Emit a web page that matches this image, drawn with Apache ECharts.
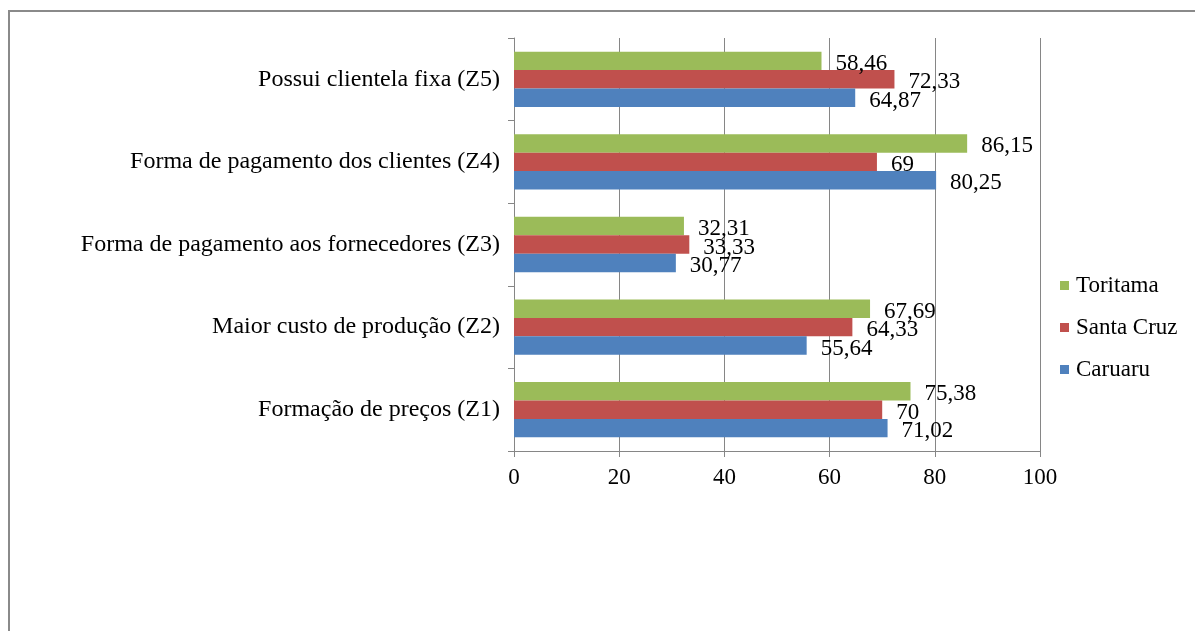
<!DOCTYPE html>
<html>
<head>
<meta charset="utf-8">
<script src="https://cdn.jsdelivr.net/npm/echarts@6/dist/echarts.min.js"></script>
<style>
  html, body { margin: 0; padding: 0; background: #fff; }
  #chart { width: 1195px; height: 631px; }
</style>
</head>
<body>
<div id="chart"></div>
<script>
// categories, bottom to top
const categories = [
  'Formação de preços (Z1)',
  'Maior custo de produção (Z2)',
  'Forma de pagamento aos fornecedores (Z3)',
  'Forma de pagamento dos clientes (Z4)',
  'Possui clientela fixa (Z5)'
]
const caruaru = [71.02, 55.64, 30.77, 80.25, 64.87]
const santaCruz = [70, 64.33, 33.33, 69, 72.33]
const toritama = [75.38, 67.69, 32.31, 86.15, 58.46]
const legendOrder = ['Toritama', 'Santa Cruz', 'Caruaru']

const serif = '"Liberation Serif", "Times New Roman", serif'
const gray = '#868686'

function makeSeries(name, values, color) {
  return {
    name: name,
    type: 'bar',
    data: values,
    barGap: '0%',
    barCategoryGap: '33%',
    itemStyle: { color: color },
    label: {
      show: true,
      position: 'right',
      distance: 14,
      offset: [0, 3],
      color: '#000',
      fontFamily: serif,
      fontSize: 23,
      formatter(p) {
        return String(p.value).replace('.', ',')
      }
    },
    animation: false
  }
}

const chart = echarts.init(document.getElementById('chart'))
chart.setOption({
  backgroundColor: '#fff',
  graphic: [{
    type: 'rect',
    shape: { x: 9, y: 11, width: 1200, height: 640 },
    style: { fill: 'none', stroke: '#8a8a8a', lineWidth: 2 },
    silent: true
  }],
  grid: { left: 514, right: 155, top: 38, bottom: 180 },
  legend: {
    data: legendOrder,
    orient: 'vertical',
    left: 1055,
    top: 269,
    itemWidth: 9,
    itemHeight: 9,
    itemGap: 19,
    icon: 'rect',
    textStyle: { color: '#000', fontFamily: serif, fontSize: 23, padding: [0, 0, 0, 2] }
  },
  xAxis: {
    type: 'value',
    min: 0,
    max: 100,
    interval: 20,
    axisLine: { show: true, lineStyle: { color: gray } },
    axisTick: { show: true, length: 6, lineStyle: { color: gray } },
    splitLine: { show: true, lineStyle: { color: gray, width: 1 } },
    axisLabel: { color: '#000', fontFamily: serif, fontSize: 23, margin: 15 }
  },
  yAxis: {
    type: 'category',
    data: categories,
    axisLine: { show: true, lineStyle: { color: gray } },
    axisTick: { show: true, length: 6, lineStyle: { color: gray } },
    axisLabel: { color: '#000', fontFamily: serif, fontSize: 24, margin: 14 }
  },
  // first series is drawn on top of each group, so green goes first
  series: [
    makeSeries('Toritama', toritama, '#9BBB59'),
    makeSeries('Santa Cruz', santaCruz, '#C0504D'),
    makeSeries('Caruaru', caruaru, '#4F81BD')
  ]
})
</script>
</body>
</html>
